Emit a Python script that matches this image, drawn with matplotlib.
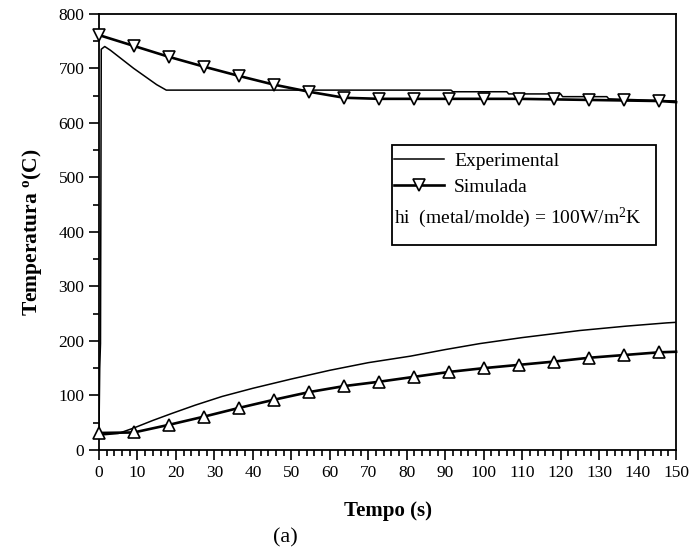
import matplotlib
matplotlib.use("Agg")
import matplotlib.pyplot as plt
from matplotlib.patches import Rectangle
from matplotlib.lines import Line2D
from matplotlib.ticker import MultipleLocator

plt.rcParams['font.family'] = ['Liberation Serif', 'DejaVu Serif']
plt.rcParams['mathtext.fontset'] = 'custom'
plt.rcParams['mathtext.rm'] = 'Liberation Serif'
plt.rcParams['mathtext.bf'] = 'Liberation Serif:bold'
plt.rcParams['mathtext.it'] = 'Liberation Serif:italic'

# Experimental - metal (upper)
exp_hi_t = [0, 0.2, 0.4, 0.6, 1.5, 3, 5, 7, 9, 11, 13, 15, 17.5, 91.5, 92, 106, 106.5, 120, 120.5, 132, 132.5, 150]
exp_hi_T = [28, 150, 195, 735, 740, 733, 722, 711, 700, 690, 680, 670, 660, 660, 657, 657, 653, 653, 648, 648, 644, 640]
# Experimental - mould (lower)
exp_lo_t = [0, 5, 9, 14, 19, 25, 32, 40, 50, 60, 70, 81, 90, 99, 110, 125, 137, 147.6, 150]
exp_lo_T = [27, 30, 40, 54, 67, 82, 98, 113, 130, 146, 160, 172, 184, 195, 206, 219, 227, 233, 234]
# Simulated
sim_t = [0, 9.1, 18.2, 27.3, 36.4, 45.5, 54.6, 63.7, 72.8, 81.9, 91.0, 100.1, 109.2, 118.3, 127.4, 136.5, 145.6, 150]
sim_hi_T = [761, 741, 721, 703, 686, 670, 657, 646, 644, 644, 644, 644, 644, 643, 642, 641, 640, 638]
sim_lo_T = [31, 32, 46, 61, 77, 92, 106, 117, 125, 134, 143, 150, 156, 162, 169, 174, 179, 180]

x_ticks = list(range(0, 151, 10))
y_ticks = list(range(0, 801, 100))

fig = plt.figure(figsize=(6.92, 5.52), dpi=100)
ax = fig.add_axes([0.143, 0.185, 0.834, 0.790])

ax.plot(exp_hi_t, exp_hi_T, color='black', lw=1.1, zorder=3)
ax.plot(exp_lo_t, exp_lo_T, color='black', lw=1.1, zorder=3)
ax.plot(sim_t, sim_hi_T, color='black', lw=1.9, marker='v', markersize=9,
        markerfacecolor='white', markeredgecolor='black', markeredgewidth=1.2,
        markevery=slice(0, 17), zorder=4, clip_on=False)
ax.plot(sim_t, sim_lo_T, color='black', lw=1.9, marker='^', markersize=9,
        markerfacecolor='white', markeredgecolor='black', markeredgewidth=1.2,
        markevery=slice(0, 17), zorder=4, clip_on=False)

ax.set_xlim(0, 150)
ax.set_ylim(0, 800)
ax.set_xticks(x_ticks)
ax.set_yticks(y_ticks)
ax.xaxis.set_minor_locator(MultipleLocator(2))
ax.yaxis.set_minor_locator(MultipleLocator(50))
ax.tick_params(axis='both', which='major', direction='out', length=7, width=1.2,
               labelsize=12.5, top=False, right=False)
ax.tick_params(axis='both', which='minor', direction='out', length=4, width=1.2,
               top=False, right=False)
ax.tick_params(axis='x', pad=4)
for s in ax.spines.values():
    s.set_linewidth(1.3)

ax.set_xlabel('Tempo (s)', fontsize=15, fontweight='bold', labelpad=14)
ax.set_ylabel(r'Temperatura $^{\mathbf{o}}$(C)', fontsize=15.5, fontweight='bold', labelpad=10)
fig.text(0.413, 0.008, '(a)', fontsize=16, ha='center', va='bottom')

# Legend box
ax.add_patch(Rectangle((0.508, 0.470), 0.457, 0.230, transform=ax.transAxes,
                       fill=True, facecolor='white', edgecolor='black', lw=1.3, zorder=5))
h1 = Line2D([], [], color='black', lw=1.1)
h2 = Line2D([], [], color='black', lw=1.9, marker='v', markersize=9,
            markerfacecolor='white', markeredgecolor='black', markeredgewidth=1.2)
leg = ax.legend([h1, h2], ['Experimental', 'Simulada'], loc='upper left',
                bbox_to_anchor=(0.509, 0.685), frameon=False, fontsize=14,
                borderaxespad=0, borderpad=0.05, handlelength=2.6, handletextpad=0.5,
                labelspacing=0.45)
leg.set_zorder(6)
ax.text(0.512, 0.532, r'hi  (metal/molde) = 100W/m$^{2}$K', transform=ax.transAxes,
        fontsize=14, ha='left', va='center', zorder=7)

fig.savefig('out.png', dpi=100)
